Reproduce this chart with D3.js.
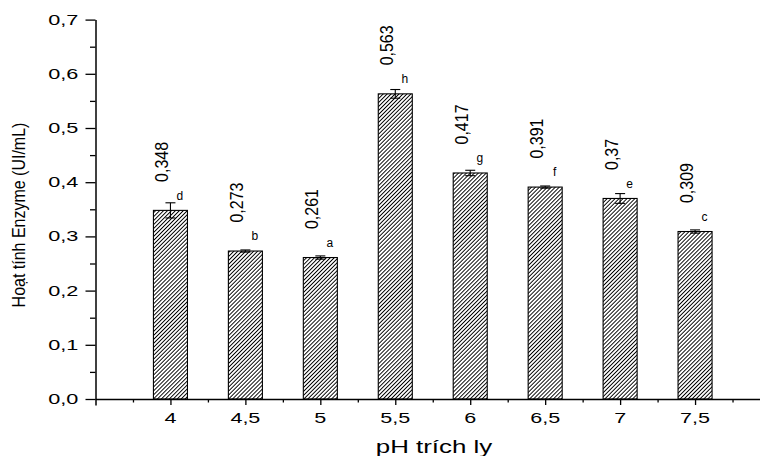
<!DOCTYPE html>
<html>
<head>
<meta charset="utf-8">
<script src="https://cdn.jsdelivr.net/npm/d3@7"></script>
<style>
  html, body { margin: 0; padding: 0; background: #fff; }
  svg { display: block; }
  text { font-family: "Liberation Sans", Arial, sans-serif; fill: #000; }
</style>
</head>
<body>
<svg id="chart" width="760" height="456"></svg>
<script>
// ---- data ----
const categories = ["4", "4,5", "5", "5,5", "6", "6,5", "7", "7,5"];
const phValues = [4, 4.5, 5, 5.5, 6, 6.5, 7, 7.5];
const activity = [0.348, 0.273, 0.261, 0.563, 0.417, 0.391, 0.370, 0.309];
const errors = [0.014, 0.002, 0.003, 0.008, 0.005, 0.002, 0.009, 0.003];
const letters = ["d", "b", "a", "h", "g", "f", "e", "c"];
const valueLabels = ["0,348", "0,273", "0,261", "0,563", "0,417", "0,391", "0,37", "0,309"];
const yTickValues = [0, 0.1, 0.2, 0.3, 0.4, 0.5, 0.6, 0.7];
const yTickLabels = ["0,0", "0,1", "0,2", "0,3", "0,4", "0,5", "0,6", "0,7"];
const yMinorTicks = [0.05, 0.15, 0.25, 0.35, 0.45, 0.55, 0.65];
const xMinorTicks = [3.75, 4.25, 4.75, 5.25, 5.75, 6.25, 6.75, 7.25, 7.75];
const yTitle = "Hoạt tính Enzyme (UI/mL)";
const xTitle = "pH trích ly";

const svg = d3.select("#chart");
svg.append("rect").attr("width", 760).attr("height", 456).attr("fill", "#fff");

const x = d3.scaleLinear().domain([3.5, 8]).range([95.5, 770]);
const y = d3.scaleLinear().domain([0, 0.7]).range([399, 19.6]);
const barW = x(3.5 + 0.227) - x(3.5);

// hatch pattern
const defs = svg.append("defs");
const pat = defs.append("pattern")
  .attr("id", "hatch")
  .attr("patternUnits", "userSpaceOnUse")
  .attr("width", 2.8).attr("height", 2.8)
  .attr("patternTransform", "rotate(45)");
pat.append("rect").attr("width", 2.8).attr("height", 2.8).attr("fill", "#fff");
pat.append("line").attr("x1", 1.4).attr("y1", 0).attr("x2", 1.4).attr("y2", 2.8)
  .attr("stroke", "#000").attr("stroke-width", 0.95);

const data = phValues.map((p, i) => ({
  p, v: activity[i], e: errors[i], letter: letters[i], label: valueLabels[i], cat: categories[i]
}));

// bars
svg.append("g").selectAll("rect").data(data).join("rect")
  .attr("x", d => x(d.p) - barW / 2)
  .attr("y", d => y(d.v))
  .attr("width", barW)
  .attr("height", d => y(0) - y(d.v))
  .attr("fill", "url(#hatch)")
  .attr("stroke", "#000")
  .attr("stroke-width", 1.1);

// error bars
const eb = svg.append("g").attr("stroke", "#000").attr("stroke-width", 1.1);
data.forEach(d => {
  const cx = x(d.p);
  eb.append("line").attr("x1", cx).attr("x2", cx).attr("y1", y(d.v + d.e)).attr("y2", y(d.v - d.e));
  eb.append("line").attr("x1", cx - 5).attr("x2", cx + 5).attr("y1", y(d.v + d.e)).attr("y2", y(d.v + d.e));
  eb.append("line").attr("x1", cx - 5).attr("x2", cx + 5).attr("y1", y(d.v - d.e)).attr("y2", y(d.v - d.e));
});

// value labels (rotated)
svg.append("g").selectAll("text").data(data).join("text")
  .attr("transform", d => `translate(${x(d.p) - 2},${y(d.v) - 28.5}) rotate(-90) scale(1,1.2)`)
  .attr("text-anchor", "start")
  .attr("font-size", 16)
  .text(d => d.label);

// significance letters
svg.append("g").selectAll("text").data(data).join("text")
  .attr("x", d => x(d.p) + 9.5)
  .attr("y", d => y(d.v) - 10.7)
  .attr("text-anchor", "middle")
  .attr("font-size", 12)
  .text(d => d.letter);

// axes
const axStroke = 1.5;
const gx = svg.append("g").attr("transform", `translate(0,${y(0)})`)
  .call(d3.axisBottom(x).tickValues(phValues).tickSize(6).tickSizeOuter(0).tickFormat(""));
gx.select(".domain").attr("stroke-width", axStroke);
gx.selectAll(".tick line").attr("stroke-width", 1.3);
const gxm = svg.append("g").attr("transform", `translate(0,${y(0)})`)
  .call(d3.axisBottom(x).tickValues(xMinorTicks).tickSize(3.5).tickSizeOuter(0).tickFormat(""));
gxm.select(".domain").remove();
gxm.selectAll(".tick line").attr("stroke-width", 1.3);
const gxe = svg.append("g").attr("transform", `translate(0,${y(0)})`)
  .call(d3.axisBottom(x).tickValues([3.5]).tickSize(6.5).tickFormat(""));
gxe.select(".domain").remove();
gxe.selectAll(".tick line").attr("stroke-width", axStroke);

// x tick labels
svg.append("g").selectAll("text").data(data).join("text")
  .attr("transform", d => `translate(${x(d.p)},422.7) scale(1.54,1)`)
  .attr("text-anchor", "middle")
  .attr("font-size", 14)
  .text(d => d.cat);

// y axis
const gy = svg.append("g").attr("transform", `translate(${x(3.5)},0)`)
  .call(d3.axisLeft(y).tickValues(yTickValues).tickSize(10).tickSizeOuter(0).tickFormat(""));
gy.select(".domain").attr("stroke-width", axStroke);
gy.selectAll(".tick line").attr("stroke-width", 1.3);
const gym = svg.append("g").attr("transform", `translate(${x(3.5)},0)`)
  .call(d3.axisLeft(y).tickValues(yMinorTicks).tickSize(5.5).tickSizeOuter(0).tickFormat(""));
gym.select(".domain").remove();
gym.selectAll(".tick line").attr("stroke-width", 1.3);

// y tick labels
svg.append("g").selectAll("text").data(yTickValues).join("text")
  .attr("transform", (d) => `translate(78.3,${y(d) + 5}) scale(1.55,1)`)
  .attr("text-anchor", "end")
  .attr("font-size", 14)
  .text((d, i) => yTickLabels[i]);

// axis titles
svg.append("text")
  .attr("transform", "translate(25,215) rotate(-90) scale(1,1.2)")
  .attr("text-anchor", "middle")
  .attr("font-size", 16)
  .text(yTitle);

svg.append("text")
  .attr("transform", "translate(434,453.3) scale(1.48,1)")
  .attr("text-anchor", "middle")
  .attr("font-size", 17.5)
  .text(xTitle);
</script>
</body>
</html>
